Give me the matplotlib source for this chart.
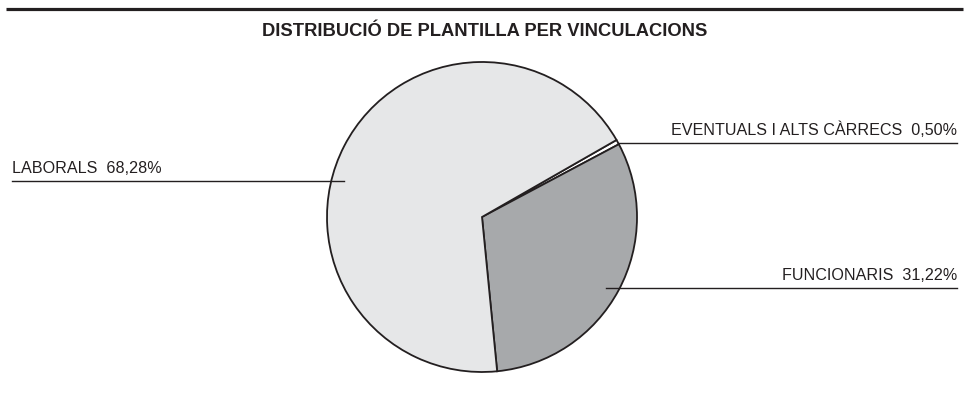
import numpy as np
import matplotlib.pyplot as plt

# dades
etiquetes = ["EVENTUALS I ALTS CÀRRECS", "FUNCIONARIS", "LABORALS"]
percentatges = [0.50, 31.22, 68.28]
colors = ["#ffffff", "#a7a9ab", "#e6e7e8"]
titol = "DISTRIBUCIÓ DE PLANTILLA PER VINCULACIONS"

plt.rcParams['font.family'] = ['Liberation Sans', 'DejaVu Sans']

W, H = 969, 407
fig = plt.figure(figsize=(W / 100, H / 100), dpi=100)
ax = fig.add_axes([0, 0, 1, 1])

# pastís (coordenades en píxels, y cap amunt)
cx, cy, r = 482, H - 217, 155
start = 28 + 360 * percentatges[0] / 100
ax.pie(percentatges, colors=colors, startangle=start, counterclock=False,
       center=(cx, cy), radius=r,
       wedgeprops=dict(edgecolor="#231f20", linewidth=1.3))
ax.set_xlim(0, W)
ax.set_ylim(0, H)
ax.set_aspect('equal')
ax.axis('off')

# línia superior i títol
ax.plot([6, 963], [H - 9, H - 9], color="#231f20", lw=2.3, solid_capstyle='butt')
ax.text(W / 2, H - 31, titol, ha='center', va='center', fontsize=13.2,
        fontweight='bold', color="#231f20")

# etiquetes amb línia guia
posicions = {
    "EVENTUALS I ALTS CÀRRECS": (H - 143, 'right', 0),
    "FUNCIONARIS": (H - 288, 'right', 14),
    "LABORALS": (H - 181, 'left', 13),
}
for nom, pct in zip(etiquetes, percentatges):
    y, costat, dins = posicions[nom]
    dx = np.sqrt(max(r ** 2 - (y - cy) ** 2, 0))
    text = f"{nom}  {pct:.2f}%".replace('.', ',')
    if costat == 'right':
        x0, x1 = cx + dx - dins, 957
        ax.text(x1, y + 5, text, ha='right', va='bottom', fontsize=11.6, color="#231f20")
    else:
        x0, x1 = 12, cx - dx + dins
        ax.text(x0, y + 5, text, ha='left', va='bottom', fontsize=11.6, color="#231f20")
    ax.plot([x0, x1], [y, y], color="#231f20", lw=1.0)

fig.savefig("out.png", dpi=100)
